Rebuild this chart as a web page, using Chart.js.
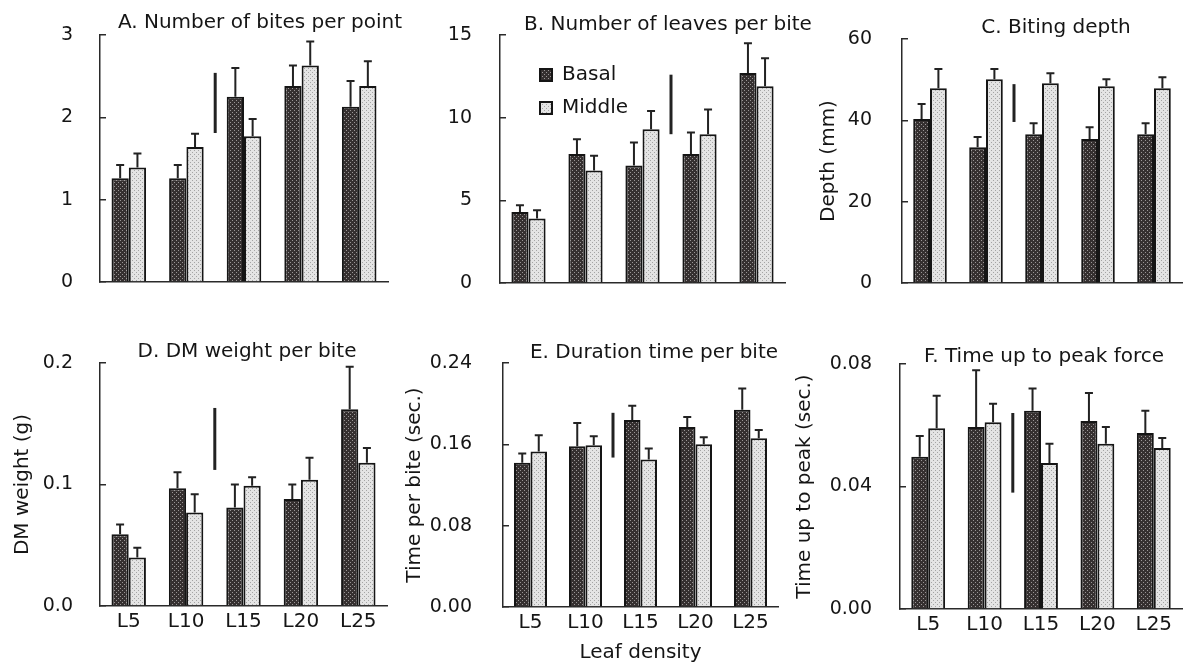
<!DOCTYPE html>
<html>
<head>
<meta charset="utf-8">
<script src="https://cdn.jsdelivr.net/npm/chart.js@4.4.1/dist/chart.umd.min.js"></script>
<style>
html,body{margin:0;padding:0;background:#fff;}
body{width:1184px;height:666px;position:relative;overflow:hidden;}
canvas{position:absolute;}
</style>
</head>
<body>
<canvas id="cA" width="420" height="300" style="left:0px;top:0px"></canvas>
<canvas id="cB" width="430" height="300" style="left:398px;top:0px"></canvas>
<canvas id="cC" width="391" height="300" style="left:793px;top:0px"></canvas>
<canvas id="cD" width="398" height="346" style="left:0px;top:320px"></canvas>
<canvas id="cE" width="395" height="346" style="left:398px;top:320px"></canvas>
<canvas id="cF" width="391" height="346" style="left:793px;top:320px"></canvas>
<script>
// ---------------- data ----------------
const categories = ['L5', 'L10', 'L15', 'L20', 'L25'];
const seriesNames = ['Basal', 'Middle'];

// A. Number of bites per point
const bitesBasal    = [1.26, 1.26, 2.25, 2.38, 2.13];
const bitesBasalSE  = [0.16, 0.16, 0.35, 0.25, 0.31];
const bitesMiddle   = [1.39, 1.64, 1.77, 2.63, 2.38];
const bitesMiddleSE = [0.17, 0.16, 0.21, 0.29, 0.30];
const bitesTicks    = [0, 1, 2, 3];
const bitesTickLabels = ['0', '1', '2', '3'];
const bitesSig      = [1.81, 2.54];   // vertical bar between L10 and L15
const bitesSigAfter = 1;

// B. Number of leaves per bite
const leavesBasal    = [4.3, 7.8, 7.1, 7.8, 12.7];
const leavesBasalSE  = [0.4, 0.9, 1.4, 1.3, 1.8];
const leavesMiddle   = [3.9, 6.8, 9.3, 9.0, 11.9];
const leavesMiddleSE = [0.5, 0.9, 1.1, 1.5, 1.7];
const leavesTicks    = [0, 5, 10, 15];
const leavesTickLabels = ['0', '5', '10', '15'];
const leavesSig      = [9.0, 12.6];   // between L15 and L20
const leavesSigAfter = 2;

// C. Biting depth
const depthBasal    = [40.3, 33.4, 36.6, 35.4, 36.6];
const depthBasalSE  = [3.7, 2.5, 2.7, 2.9, 2.7];
const depthMiddle   = [47.9, 50.1, 49.1, 48.4, 47.9];
const depthMiddleSE = [4.7, 2.5, 2.5, 1.7, 2.7];
const depthTicks    = [0, 20, 40, 60];
const depthTickLabels = ['0', '20', '40', '60'];
const depthSig      = [39.6, 48.9];
const depthSigAfter = 1;

// D. DM weight per bite
const dmBasal    = [0.059, 0.097, 0.081, 0.088, 0.162];
const dmBasalSE  = [0.008, 0.013, 0.019, 0.012, 0.035];
const dmMiddle   = [0.040, 0.077, 0.099, 0.104, 0.118];
const dmMiddleSE = [0.008, 0.015, 0.007, 0.018, 0.012];
const dmTicks    = [0, 0.1, 0.2];
const dmTickLabels = ['0.0', '0.1', '0.2'];
const dmSig      = [0.112, 0.163];
const dmSigAfter = 1;

// E. Duration time per bite
const durBasal    = [0.142, 0.158, 0.184, 0.177, 0.194];
const durBasalSE  = [0.009, 0.023, 0.014, 0.010, 0.021];
const durMiddle   = [0.153, 0.159, 0.145, 0.160, 0.166];
const durMiddleSE = [0.016, 0.009, 0.011, 0.007, 0.008];
const durTicks    = [0, 0.08, 0.16, 0.24];
const durTickLabels = ['0.00', '0.08', '0.16', '0.24'];
const durSig      = [0.147, 0.191];
const durSigAfter = 1;

// F. Time up to peak force
const peakBasal    = [0.0497, 0.0594, 0.0647, 0.0614, 0.0575];
const peakBasalSE  = [0.0068, 0.0186, 0.0073, 0.0091, 0.0072];
const peakMiddle   = [0.0590, 0.0610, 0.0477, 0.0540, 0.0526];
const peakMiddleSE = [0.0106, 0.0060, 0.0063, 0.0054, 0.0032];
const peakTicks    = [0, 0.04, 0.08];
const peakTickLabels = ['0.00', '0.04', '0.08'];
const peakSig      = [0.038, 0.064];
const peakSigAfter = 1;

// ---------------- style ----------------
const FONT = '"DejaVu Sans", "Noto Sans CJK JP", sans-serif';
const INK = '#151515';
const AXIS = '#2a2a2a';

function makePattern(bg, dot) {
  const c = document.createElement('canvas');
  c.width = 4; c.height = 4;
  const g = c.getContext('2d');
  g.fillStyle = bg; g.fillRect(0, 0, 4, 4);
  g.fillStyle = dot; g.fillRect(0, 0, 1, 1); g.fillRect(2, 2, 1, 1);
  return g.createPattern(c, 'repeat');
}
const basalFill = makePattern('#353030', '#9a9696');
const middleFill = makePattern('#e4e4e4', '#a4a4a4');

function decorPlugin(cfg) {
  return {
    id: 'decor',
    afterDatasetsDraw(chart) {
      const ctx = chart.ctx;
      const xs = chart.scales.x, ys = chart.scales.y;
      ctx.save();
      ctx.strokeStyle = '#222';
      ctx.lineWidth = 2;
      cfg.errors.forEach((errs, di) => {
        const meta = chart.getDatasetMeta(di);
        meta.data.forEach((bar, j) => {
          const v = chart.data.datasets[di].data[j];
          const top = ys.getPixelForValue(v + errs[j]);
          ctx.beginPath();
          ctx.moveTo(bar.x, bar.y);
          ctx.lineTo(bar.x, top);
          ctx.moveTo(bar.x - 4, top);
          ctx.lineTo(bar.x + 4, top);
          ctx.stroke();
        });
      });
      const sx = (xs.getPixelForValue(cfg.sigAfter) + xs.getPixelForValue(cfg.sigAfter + 1)) / 2;
      ctx.lineWidth = 3;
      ctx.beginPath();
      ctx.moveTo(sx, ys.getPixelForValue(cfg.sig[0]));
      ctx.lineTo(sx, ys.getPixelForValue(cfg.sig[1]));
      ctx.stroke();
      ctx.restore();
    },
    afterDraw(chart) {
      const ctx = chart.ctx;
      ctx.save();
      ctx.font = '20px ' + FONT;
      ctx.fillStyle = INK;
      ctx.textAlign = 'center';
      ctx.textBaseline = 'alphabetic';
      ctx.fillText(cfg.title, cfg.titleX, cfg.titleY);
      ctx.restore();
    },
    afterUpdate(chart) {
      if (cfg.legendOffset && chart.legend) {
        const L = chart.legend, ca = chart.chartArea;
        L.left = ca.left + cfg.legendOffset[0];
        L.top = ca.top + cfg.legendOffset[1];
        L.right = L.left + L.width;
        L.bottom = L.top + L.height;
      }
    }
  };
}

function buildPanel(p) {
  const L = p.layout;
  new Chart(document.getElementById(p.canvas), {
    type: 'bar',
    data: {
      labels: categories,
      datasets: [
        { label: seriesNames[0], data: p.basal, backgroundColor: basalFill, borderColor: '#151515',
          borderWidth: 2, categoryPercentage: 0.6, barPercentage: 1.0 },
        { label: seriesNames[1], data: p.middle, backgroundColor: middleFill, borderColor: '#151515',
          borderWidth: 2, categoryPercentage: 0.6, barPercentage: 1.0 }
      ]
    },
    options: {
      responsive: false,
      animation: false,
      events: [],
      layout: { autoPadding: false, padding: { top: L.padTop, right: L.padR, left: 0, bottom: 0 } },
      plugins: {
        title: { display: false },
        tooltip: { enabled: false },
        legend: p.legend ? {
          display: true, position: 'chartArea', align: 'start',
          labels: { boxWidth: 12, boxHeight: 12, padding: 13, color: INK, font: { family: FONT, size: 20 } }
        } : { display: false }
      },
      scales: {
        x: {
          offset: true,
          grid: { display: false, drawTicks: false },
          border: { display: true, color: AXIS, width: 1.5 },
          ticks: { display: p.showX, color: INK, font: { family: FONT, size: 20 }, padding: 4,
                   maxRotation: 0, autoSkip: false },
          title: { display: !!p.xTitle, text: p.xTitle || '', color: INK, font: { family: FONT, size: 20 },
                   padding: { top: 0, bottom: 1 } },
          afterFit: s => { s.height = L.xH; s.paddingLeft = 0; s.paddingRight = 0; }
        },
        y: {
          min: p.ticks[0], max: p.ticks[p.ticks.length - 1],
          grid: { display: true, drawOnChartArea: false, drawTicks: true, tickLength: -6, color: AXIS, lineWidth: 1.5 },
          border: { display: true, color: AXIS, width: 1.5 },
          afterBuildTicks: s => { s.ticks = p.ticks.map(v => ({ value: v })); },
          ticks: { color: INK, font: { family: FONT, size: 19 }, padding: L.tickGap + 6,
                   callback: (v, i) => p.tickLabels[i] },
          title: { display: !!p.yTitle, text: p.yTitle || '', color: INK, font: { family: FONT, size: 20 },
                   padding: { top: L.yTitlePad, bottom: 0 } },
          afterFit: s => { s.width = L.yW; s.paddingTop = 0; s.paddingBottom = 0; }
        }
      }
    },
    plugins: [decorPlugin({
      errors: [p.basalSE, p.middleSE], sig: p.sig, sigAfter: p.sigAfter,
      title: p.title, titleX: p.titleX - L.cx, titleY: p.titleY - L.cy,
      legendOffset: p.legend ? [27, 17] : null
    })]
  });
}

buildPanel({ canvas: 'cA', title: 'A. Number of bites per point', titleX: 260, titleY: 28,
  basal: bitesBasal, basalSE: bitesBasalSE, middle: bitesMiddle, middleSE: bitesMiddleSE,
  ticks: bitesTicks, tickLabels: bitesTickLabels, sig: bitesSig, sigAfter: bitesSigAfter, showX: false,
  layout: { cx: 0, cy: 0, padTop: 35, padR: 32, yW: 100, xH: 18, tickGap: 27, yTitlePad: 0 } });

buildPanel({ canvas: 'cB', title: 'B. Number of leaves per bite', titleX: 668, titleY: 30, legend: true,
  basal: leavesBasal, basalSE: leavesBasalSE, middle: leavesMiddle, middleSE: leavesMiddleSE,
  ticks: leavesTicks, tickLabels: leavesTickLabels, sig: leavesSig, sigAfter: leavesSigAfter, showX: false,
  layout: { cx: 398, cy: 0, padTop: 35, padR: 43, yW: 102, xH: 17, tickGap: 28, yTitlePad: 0 } });

buildPanel({ canvas: 'cC', title: 'C. Biting depth', titleX: 1056, titleY: 33, yTitle: 'Depth (mm)',
  basal: depthBasal, basalSE: depthBasalSE, middle: depthMiddle, middleSE: depthMiddleSE,
  ticks: depthTicks, tickLabels: depthTickLabels, sig: depthSig, sigAfter: depthSigAfter, showX: false,
  layout: { cx: 793, cy: 0, padTop: 39, padR: 2, yW: 109, xH: 17, tickGap: 30, yTitlePad: 24 } });

buildPanel({ canvas: 'cD', title: 'D. DM weight per bite', titleX: 247, titleY: 357, yTitle: 'DM weight (g)',
  basal: dmBasal, basalSE: dmBasalSE, middle: dmMiddle, middleSE: dmMiddleSE,
  ticks: dmTicks, tickLabels: dmTickLabels, sig: dmSig, sigAfter: dmSigAfter, showX: true,
  layout: { cx: 0, cy: 320, padTop: 43, padR: 11, yW: 100, xH: 60, tickGap: 27, yTitlePad: 11 } });

buildPanel({ canvas: 'cE', title: 'E. Duration time per bite', titleX: 654, titleY: 358,
  yTitle: 'Time per bite (sec.)', xTitle: 'Leaf density',
  basal: durBasal, basalSE: durBasalSE, middle: durMiddle, middleSE: durMiddleSE,
  ticks: durTicks, tickLabels: durTickLabels, sig: durSig, sigAfter: durSigAfter, showX: true,
  layout: { cx: 398, cy: 320, padTop: 43, padR: 15, yW: 105, xH: 59, tickGap: 31, yTitlePad: 5 } });

buildPanel({ canvas: 'cF', title: 'F. Time up to peak force', titleX: 1044, titleY: 362,
  yTitle: 'Time up to peak (sec.)',
  basal: peakBasal, basalSE: peakBasalSE, middle: peakMiddle, middleSE: peakMiddleSE,
  ticks: peakTicks, tickLabels: peakTickLabels, sig: peakSig, sigAfter: peakSigAfter, showX: true,
  layout: { cx: 793, cy: 320, padTop: 44, padR: 2, yW: 107, xH: 57, tickGap: 28, yTitlePad: 0 } });
</script>
</body>
</html>
